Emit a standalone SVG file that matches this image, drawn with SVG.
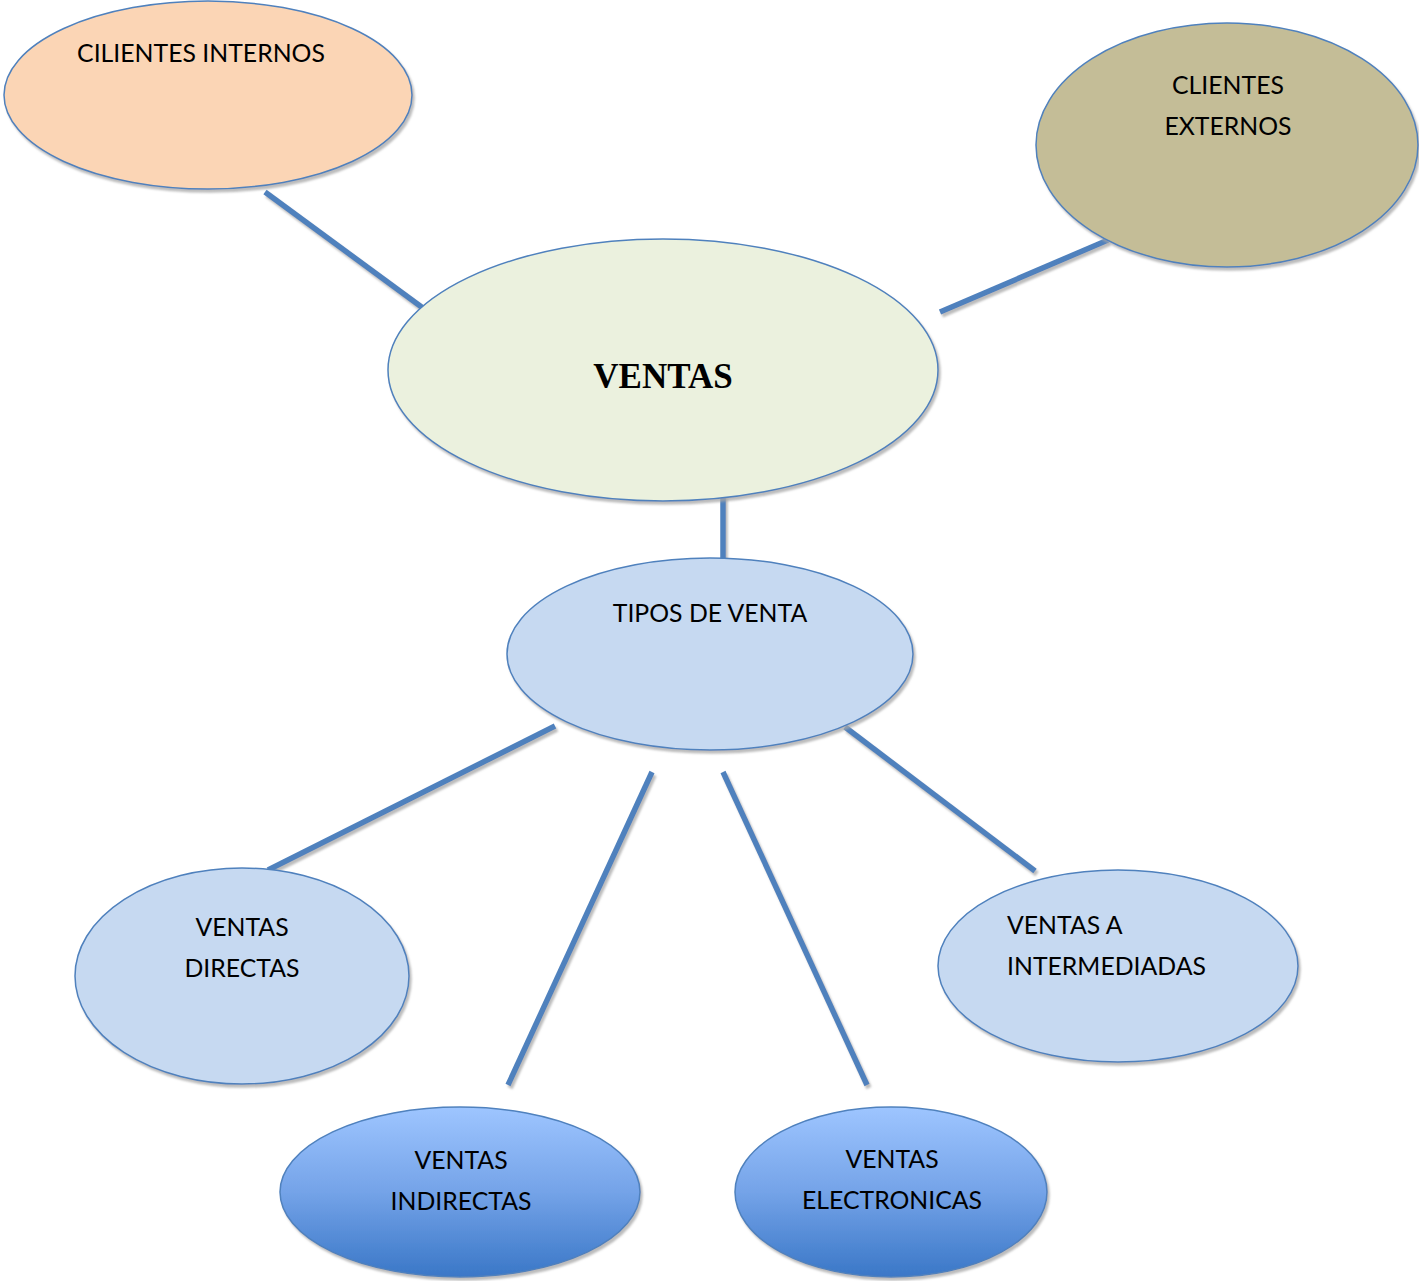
<svg xmlns="http://www.w3.org/2000/svg" width="1419" height="1281" viewBox="0 0 1419 1281">
  <defs>
    <!-- soft grey offset shadow used under shapes and connectors -->
    <filter id="shadow" x="-10%" y="-10%" width="125%" height="130%">
      <feGaussianBlur in="SourceAlpha" stdDeviation="1"/>
      <feOffset dx="2" dy="3" result="off"/>
      <feFlood flood-color="#a6a6a6" flood-opacity="0.75"/>
      <feComposite in2="off" operator="in" result="sh"/>
      <feMerge><feMergeNode in="sh"/><feMergeNode in="SourceGraphic"/></feMerge>
    </filter>
    <linearGradient id="blueGrad" x1="0" y1="0" x2="0" y2="1">
      <stop offset="0" stop-color="#9ec5ff"/>
      <stop offset="0.5" stop-color="#74a3e8"/>
      <stop offset="1" stop-color="#3a77c7"/>
    </linearGradient>
  </defs>
  <style>
    .node { stroke: #4f81bd; stroke-width: 1.5; filter: url(#shadow); }
    .lbl { font-family: Lato, "Liberation Sans", sans-serif; font-size: 24.8px; fill: #000; text-anchor: middle; }
    .lbl.left { text-anchor: start; }
    .title { font-family: "Liberation Serif", serif; font-weight: bold; font-size: 35px; fill: #000; text-anchor: middle; }
    .link { stroke: #4f81bd; stroke-width: 5.5; fill: none; }
  </style>

  <rect width="1419" height="1281" fill="#ffffff"/>

  <g id="connectors" filter="url(#shadow)">
    <line class="link" x1="265" y1="192" x2="427" y2="311"/>
    <line class="link" x1="940" y1="312" x2="1108" y2="240"/>
    <line class="link" x1="723" y1="487" x2="723" y2="560"/>
    <line class="link" x1="555" y1="726" x2="268" y2="870"/>
    <line class="link" x1="652" y1="772" x2="508" y2="1085"/>
    <line class="link" x1="723" y1="772" x2="867" y2="1085"/>
    <line class="link" x1="845" y1="727" x2="1035" y2="871"/>
  </g>

  <g id="clientes-internos">
    <ellipse class="node" cx="208" cy="95" rx="204" ry="94" fill="#fbd5b5"/>
    <text class="lbl" x="201" y="62">CILIENTES INTERNOS</text>
  </g>

  <g id="clientes-externos">
    <ellipse class="node" cx="1227" cy="145" rx="191" ry="122" fill="#c4bd97"/>
    <text class="lbl" x="1228" y="94">CLIENTES</text>
    <text class="lbl" x="1228" y="135">EXTERNOS</text>
  </g>

  <g id="ventas">
    <ellipse class="node" cx="663" cy="370" rx="275" ry="131" fill="#ebf1de"/>
    <text class="title" x="663" y="388">VENTAS</text>
  </g>

  <g id="tipos-de-venta">
    <ellipse class="node" cx="710" cy="654" rx="203" ry="96" fill="#c6d9f1"/>
    <text class="lbl" x="710" y="622">TIPOS DE VENTA</text>
  </g>

  <g id="ventas-directas">
    <ellipse class="node" cx="242" cy="976" rx="167" ry="108" fill="#c6d9f1"/>
    <text class="lbl" x="242" y="936">VENTAS</text>
    <text class="lbl" x="242" y="977">DIRECTAS</text>
  </g>

  <g id="ventas-intermediadas">
    <ellipse class="node" cx="1118" cy="966" rx="180" ry="96" fill="#c6d9f1"/>
    <text class="lbl left" x="1007" y="934">VENTAS A</text>
    <text class="lbl left" x="1007" y="975">INTERMEDIADAS</text>
  </g>

  <g id="ventas-indirectas">
    <ellipse class="node" cx="460" cy="1192" rx="180" ry="85" fill="url(#blueGrad)"/>
    <text class="lbl" x="461" y="1169">VENTAS</text>
    <text class="lbl" x="461" y="1210">INDIRECTAS</text>
  </g>

  <g id="ventas-electronicas">
    <ellipse class="node" cx="891" cy="1192" rx="156" ry="85" fill="url(#blueGrad)"/>
    <text class="lbl" x="892" y="1168">VENTAS</text>
    <text class="lbl" x="892" y="1209">ELECTRONICAS</text>
  </g>
</svg>
